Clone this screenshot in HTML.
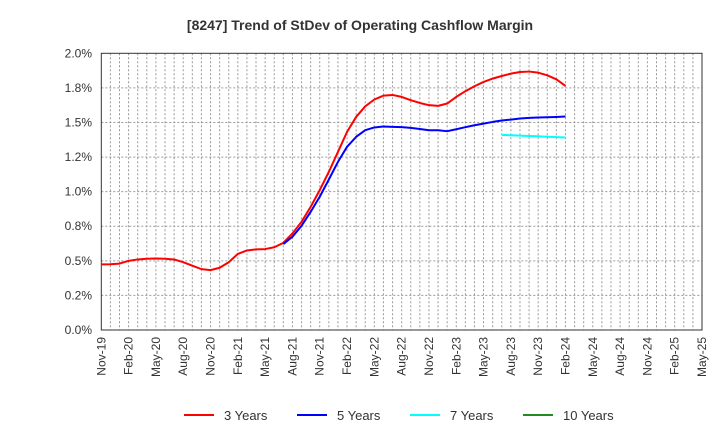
<!DOCTYPE html>
<html><head><meta charset="utf-8"><style>
body{margin:0;background:#fff;}
svg{display:block;font-family:"Liberation Sans",Arial,sans-serif;}
</style></head><body>
<svg id="chart" width="720" height="440">
<text x="360" y="30" text-anchor="middle" font-size="14" font-weight="bold" fill="#333">[8247]  Trend of StDev of Operating Cashflow Margin</text>
<g id="grid"></g>
<g id="axes"></g>
<g id="series"></g>
<g id="legend"></g>
</svg>
<script>
const xLabels=["Nov-19","Feb-20","May-20","Aug-20","Nov-20","Feb-21","May-21","Aug-21","Nov-21","Feb-22","May-22","Aug-22","Nov-22","Feb-23","May-23","Aug-23","Nov-23","Feb-24","May-24","Aug-24","Nov-24","Feb-25","May-25"];
const yTicks=[0,0.25,0.5,0.75,1.0,1.25,1.5,1.75,2.0];
const yTickLabels=["0.0%","0.2%","0.5%","0.8%","1.0%","1.2%","1.5%","1.8%","2.0%"];
const seriesNames=["3 Years","5 Years","7 Years","10 Years"];
const seriesColors=["#ff0000","#0000ff","#00ffff","#228b22"];
// monthly values, index 0 = Nov-19
const start3=0;
const vals3=[0.474,0.475,0.48,0.50,0.51,0.515,0.517,0.515,0.51,0.49,0.465,0.44,0.433,0.45,0.49,0.55,0.575,0.583,0.585,0.598,0.630,0.698,0.782,0.890,1.011,1.143,1.287,1.432,1.540,1.617,1.666,1.694,1.699,1.685,1.661,1.641,1.625,1.620,1.637,1.685,1.726,1.762,1.793,1.817,1.836,1.853,1.865,1.868,1.860,1.841,1.812,1.764];
const start5=20;
const vals5=[0.621,0.674,0.753,0.854,0.963,1.088,1.215,1.324,1.396,1.444,1.464,1.471,1.468,1.466,1.461,1.453,1.444,1.444,1.437,1.451,1.466,1.48,1.492,1.504,1.514,1.521,1.529,1.533,1.536,1.538,1.540,1.543];
const start7=44;
const vals7=[1.410,1.408,1.405,1.402,1.400,1.397,1.394,1.391];
const start10=0;
const vals10=[];
const L=101.3,R=702,T=53.3,B=330,NM=66;
const xs=i=>L+(R-L)*i/NM;
const ys=v=>B-(B-T)*v/2.0;
const NS="http://www.w3.org/2000/svg";
function mk(tag,attrs,parent){const e=document.createElementNS(NS,tag);for(const k in attrs)e.setAttribute(k,attrs[k]);parent.appendChild(e);return e;}
const grid=document.getElementById('grid'),axes=document.getElementById('axes'),ser=document.getElementById('series'),leg=document.getElementById('legend');
for(let i=1;i<NM;i++){const g=mk('line',{x1:xs(i),x2:xs(i),y1:T,y2:B,stroke:'#999','stroke-width':1,'stroke-dasharray':'2,2'},grid);

}
yTicks.forEach((v,i)=>{
 if(i>0&&i<yTicks.length-1){const g=mk('line',{x1:L,x2:R,y1:ys(v),y2:ys(v),stroke:'#999','stroke-width':1,'stroke-dasharray':'2,2'},grid);
 
 }
 const t=mk('text',{x:92,y:ys(v)+4,'text-anchor':'end','font-size':12,fill:'#333'},axes);t.textContent=yTickLabels[i];
 
 
});
const fr=mk('rect',{x:L,y:T,width:R-L,height:B-T,fill:'none',stroke:'#333','stroke-width':1},axes);


xLabels.forEach((s,i)=>{const x=xs(i*3);const t=mk('text',{transform:`translate(${x+4},337) rotate(-90)`,'text-anchor':'end','font-size':12,fill:'#333'},axes);t.textContent=s;
 
 });
function line(st,vals,color,name){if(!vals.length)return;const p=mk('polyline',{points:vals.map((v,i)=>xs(st+i)+','+ys(v)).join(' '),fill:'none',stroke:color,'stroke-width':2,'stroke-linejoin':'round'},ser);
 
 }
line(start3,vals3,seriesColors[0],'series-3-years');
line(start5,vals5,seriesColors[1],'series-5-years');
line(start7,vals7,seriesColors[2],'series-7-years');
line(start10,vals10,seriesColors[3],'series-10-years');
const lx=[184,297,410,523];
seriesNames.forEach((n,i)=>{const g=mk('g',{},leg);
 
 
 mk('line',{x1:lx[i],x2:lx[i]+30,y1:415,y2:415,stroke:seriesColors[i],'stroke-width':2},g);
 const t=mk('text',{x:lx[i]+40,y:420,'font-size':13,fill:'#333'},g);t.textContent=n;});
</script>
</body></html>
